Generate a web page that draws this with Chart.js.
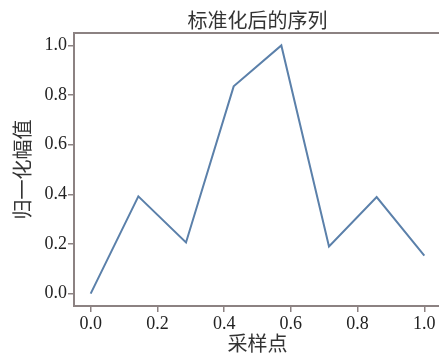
<!DOCTYPE html>
<html lang="zh">
<head>
  <meta charset="UTF-8">
  <title>标准化后的序列</title>
  <script src="https://cdn.jsdelivr.net/npm/chart.js"></script>
  <style>
    html, body { margin: 0; padding: 0; background: #fff; overflow: hidden; }
    #wrap { width: 439px; height: 356px; overflow: hidden; }
  </style>
</head>
<body>
  <div id="wrap">
    <canvas id="seq" width="442" height="356"></canvas>
  </div>

  <script>
    // sample positions (normalised) and amplitudes
    const samplePos = [0, 1/7, 2/7, 3/7, 4/7, 5/7, 6/7, 1];
    const amplitude = [0.0, 0.392, 0.206, 0.835, 1.0, 0.19, 0.389, 0.153];
    const xTicks = [0, 0.2, 0.4, 0.6, 0.8, 1.0];
    const yTicks = [0, 0.2, 0.4, 0.6, 0.8, 1.0];

    const spine = '#8c8282';
    const serif = "'Liberation Serif', 'DejaVu Serif', serif";
    const cjk = "'Noto Sans CJK SC', sans-serif";

    const points = samplePos.map((x, i) => ({ x: x, y: amplitude[i] }));

    const ctx = document.getElementById('seq').getContext('2d');
    new Chart(ctx, {
      type: 'scatter',
      data: {
        datasets: [{
          data: points,
          showLine: true,
          borderColor: '#5b80aa',
          borderWidth: 2,
          pointRadius: 0,
          tension: 0
        }]
      },
      options: {
        responsive: false,
        animation: false,
        layout: { padding: { left: 0, right: 1, top: 0, bottom: 0 } },
        plugins: {
          legend: { display: false },
          tooltip: { enabled: false },
          title: {
            display: true,
            fullSize: false,
            text: '标准化后的序列',
            color: '#333',
            font: { family: cjk, size: 20, weight: 'normal' },
            padding: { top: 8, bottom: 1 }
          }
        },
        scales: {
          x: {
            type: 'linear',
            min: -0.05,
            max: 1.05,
            afterBuildTicks: s => { s.ticks = xTicks.map(v => ({ value: v })); },
            afterFit: s => { s.height = 50; },
            ticks: {
              color: '#222',
              font: { family: serif, size: 18 },
              padding: 1,
              maxRotation: 0,
              callback: v => v.toFixed(1)
            },
            grid: { drawOnChartArea: false, drawTicks: true, tickLength: 6, color: spine, lineWidth: 1.5 },
            border: { display: true, color: spine, width: 2 },
            title: {
              display: true,
              text: '采样点',
              color: '#333',
              font: { family: cjk, size: 20 },
              padding: { top: 0, bottom: 1 }
            }
          },
          x2: {
            type: 'linear',
            position: 'top',
            min: -0.05,
            max: 1.05,
            ticks: { display: false },
            grid: { drawOnChartArea: false, drawTicks: false },
            border: { display: true, color: spine, width: 2 },
            afterFit: s => { s.height = 0; }
          },
          y: {
            min: -0.05,
            max: 1.05,
            afterBuildTicks: s => { s.ticks = yTicks.map(v => ({ value: v })); },
            afterFit: s => { s.width = 74; },
            ticks: {
              color: '#222',
              font: { family: serif, size: 18 },
              padding: 1,
              callback: v => v.toFixed(1)
            },
            grid: { drawOnChartArea: false, drawTicks: true, tickLength: 6, color: spine, lineWidth: 1.5 },
            border: { display: true, color: spine, width: 2 },
            title: {
              display: true,
              text: '归一化幅值',
              color: '#333',
              font: { family: cjk, size: 20 },
              padding: { top: 10, bottom: 0 }
            }
          }
        }
      }
    });
  </script>
</body>
</html>
